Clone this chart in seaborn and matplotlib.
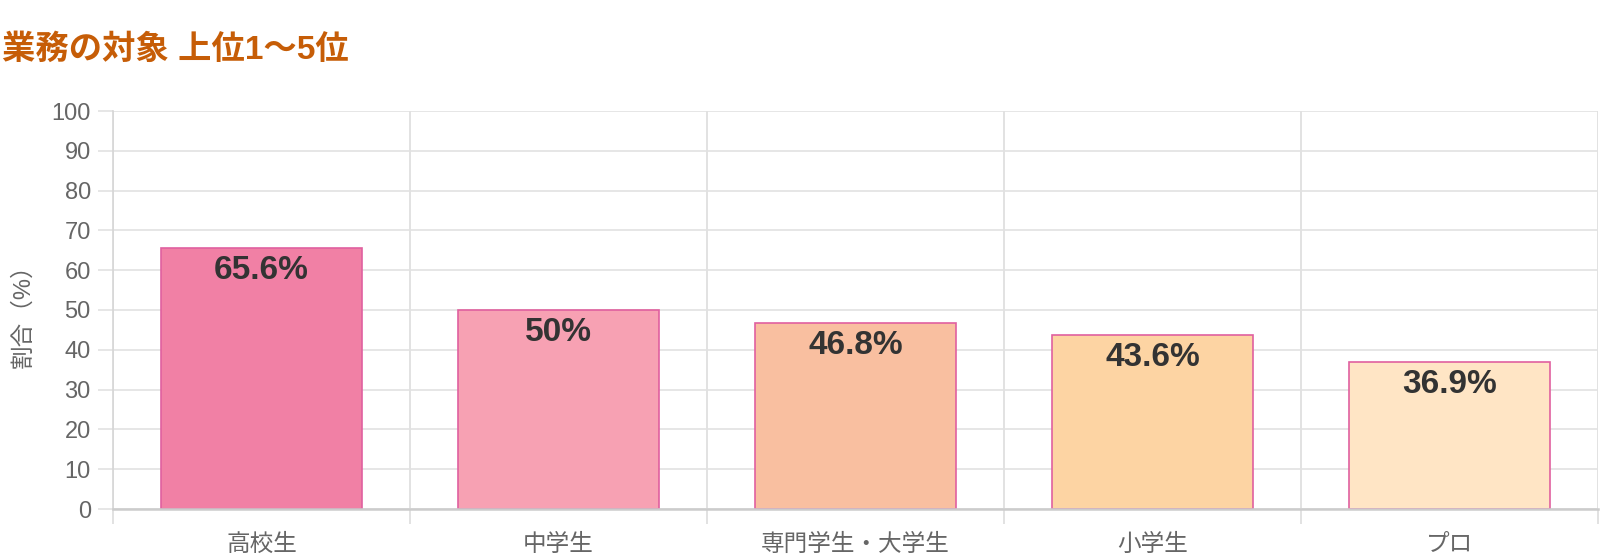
import matplotlib
matplotlib.use("Agg")
import matplotlib.pyplot as plt
import seaborn as sns
import pandas as pd

# Data
categories = ["高校生", "中学生", "専門学生・大学生", "小学生", "プロ"]
values = [65.6, 50, 46.8, 43.6, 36.9]
bar_colors = ["#f180a5", "#f7a1b3", "#f9bfa0", "#fdd4a3", "#ffe5c5"]
y_ticks = list(range(0, 101, 10))

title = "業務の対象 上位1〜5位"
y_label = "割合（%）"

sns.set_theme(style="white")
plt.rcParams["font.family"] = ["Liberation Sans", "Noto Sans CJK JP", "DejaVu Sans"]

df = pd.DataFrame({"category": categories, "value": values})

fig = plt.figure(figsize=(16, 5.6), dpi=100)
ax = fig.add_axes([113 / 1600, 51 / 560, 1485 / 1600, 398 / 560])

sns.barplot(data=df, x="category", y="value", hue="category",
            palette=bar_colors, legend=False, width=0.68,
            edgecolor="#e0609f", linewidth=1.2, saturation=1, ax=ax)

# value labels inside bar tops
for i, v in enumerate(values):
    ax.annotate(f"{v:g}%", (i, v), xytext=(0, -5), textcoords="offset points",
                ha="center", va="top", fontsize=24, fontweight="bold", color="#333333")

ax.set_ylim(0, 100)
ax.set_xlim(-0.5, len(categories) - 0.5)
ax.set_yticks(y_ticks)
ax.set_xlabel("")
ax.set_ylabel(y_label, fontsize=17, color="#666666", labelpad=12)

# grid: horizontal at y ticks, vertical at category boundaries
ax.set_xticks([i - 0.5 for i in range(len(categories) + 1)], minor=True)
ax.grid(axis="y", which="major", color="#e1e1e1", linewidth=1.2)
ax.grid(axis="x", which="minor", color="#dddddd", linewidth=1.2)
ax.set_axisbelow(True)

ax.tick_params(axis="y", length=11, width=1.2, color="#e1e1e1", pad=5,
               labelsize=17, labelcolor="#666666", left=True)
ax.tick_params(axis="x", which="major", length=0, pad=18,
               labelsize=17, labelcolor="#666666")
ax.tick_params(axis="x", which="minor", length=11, width=1.2,
               color="#dddddd", bottom=True)

for side in ["top", "right"]:
    ax.spines[side].set_visible(False)
ax.spines["left"].set_color("#d6d6d6")
ax.spines["left"].set_linewidth(1.2)
ax.spines["bottom"].set_color("#cccccc")
ax.spines["bottom"].set_linewidth(1.8)

fig.text(0.001, 1 - 50 / 560, title, fontsize=24, fontweight="bold",
         color="#c65d07", ha="left", va="center")

fig.savefig("out.png", dpi=100)
